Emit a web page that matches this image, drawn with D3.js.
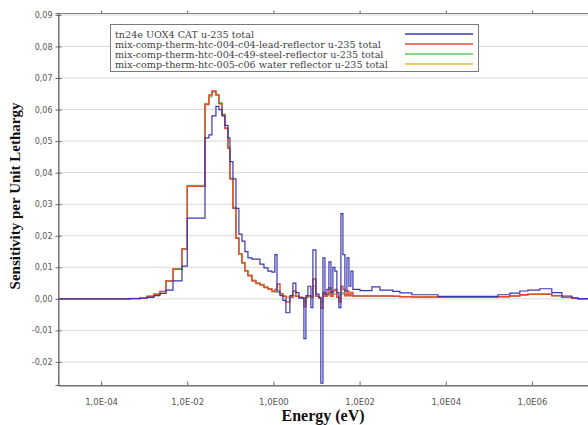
<!DOCTYPE html>
<html>
<head>
<meta charset="utf-8">
<script src="https://cdn.jsdelivr.net/npm/d3@7"></script>
<style>
  body { margin: 0; background: #fff; }
  svg { display: block; }
</style>
</head>
<body>
<div id="chart"></div>
<script>
// bin lower edges in eV (last entry closes the final bin)
const energyBins = [
  1.0e-5, 4.7e-4, 8.0e-4, 1.16e-3, 1.69e-3, 2.33e-3, 3.21e-3, 4.66e-3, 7.53e-3, 1.0e-2,
  2.58e-2, 3.19e-2, 3.74e-2, 4.63e-2, 5.43e-2, 6.38e-2, 7.49e-2, 8.80e-2, 9.79e-2, 0.115,
  0.135, 0.158, 0.186, 0.218, 0.256, 0.317, 0.393, 0.486, 0.602, 0.745,
  0.923, 1.08, 1.21, 1.42, 1.66, 1.95, 2.41, 2.83, 3.32, 3.91,
  4.58, 5.10, 5.68, 6.31, 7.41, 8.25, 9.68, 11.4, 12.6, 14.1,
  15.7, 17.4, 19.4, 21.6, 24.0, 26.7, 29.7, 33.1, 36.8, 41.0,
  45.6, 50.8, 56.5, 62.8, 69.9, 82.1, 102, 140, 193, 296,
  593, 861, 1630, 6560, 6.18e4, 1.62e5, 3.07e5, 5.24e5, 8.03e5, 1.52e6,
  2.89e6, 4.94e6, 8.44e6, 1.16e7, 2.0e7
];

// sensitivity per unit lethargy, one value per bin
const tn24eValues = [
  0, 0.0001, 0.0002, 0.0005, 0.0010, 0.0017, 0.0028, 0.0057, 0.0104, 0.0256,
  0.0510, 0.0520, 0.0580, 0.0610, 0.0600, 0.0580, 0.0550, 0.0510, 0.0435, 0.0380,
  0.0287, 0.0205, 0.0183, 0.0150, 0.0130, 0.0126, 0.0126, 0.0110, 0.0098, 0.0088,
  0.0085, 0.0140, 0.0025, 0.0010, -0.0005, -0.0044, 0.0010, 0.0050, 0.0020, 0.0002,
  0.0003, -0.0126, 0.0010, 0.0040, -0.0028, 0.0155, 0.0015, 0.0005, -0.0267, 0.0130,
  0.0015, 0.0030, 0.0117, 0.0020, 0.0100, 0.0088, 0.0020, -0.0028, 0.0270, 0.0140,
  0.0025, 0.0130, 0.0040, 0.0088, 0.0030, 0.0030, 0.0026, 0.0026, 0.0038, 0.0028,
  0.0024, 0.0019, 0.0013, 0.0008, 0.0008, 0.0013, 0.0018, 0.0025, 0.0028, 0.0032,
  0.0020, 0.0009, 0.0003, 0.0001
];

const leadValues = [
  0, 0.0001, 0.0003, 0.0008, 0.0015, 0.0023, 0.0057, 0.0094, 0.0158, 0.0357,
  0.0616, 0.0646, 0.0659, 0.0646, 0.0618, 0.0583, 0.0540, 0.0477, 0.0380, 0.0287,
  0.0192, 0.0142, 0.0114, 0.0088, 0.0073, 0.0057, 0.0049, 0.0044, 0.0036, 0.0031,
  0.0023, 0.0030, 0.0047, 0.0016, 0.0008, -0.0010, 0.0005, 0.0025, 0.0008, 0.0005,
  0.0003, -0.0025, 0.0005, 0.0010, 0.0005, 0.0063, 0.0008, 0.0003, -0.0030, 0.0020,
  0.0008, 0.0015, 0.0035, 0.0008, 0.0025, 0.0030, 0.0005, -0.0010, 0.0040, 0.0030,
  0.0010, 0.0025, 0.0010, 0.0020, 0.0009, 0.0009, 0.0009, 0.0009, 0.0009, 0.0009,
  0.0008, 0.0007, 0.0006, 0.0005, 0.0005, 0.0007, 0.0009, 0.0013, 0.0015, 0.0015,
  0.0010, 0.0005, 0.0002, 0
];

const steelValues = [
  0, 0.0001, 0.0003, 0.0008, 0.0015, 0.0023, 0.0057, 0.0096, 0.0159, 0.0360,
  0.0620, 0.0640, 0.0655, 0.0648, 0.0622, 0.0586, 0.0543, 0.0480, 0.0383, 0.0290,
  0.0194, 0.0144, 0.0115, 0.0089, 0.0075, 0.0059, 0.0050, 0.0045, 0.0037, 0.0031,
  0.0024, 0.0022, 0.0020, 0.0016, 0.0009, 0.0005, 0.0006, 0.0010, 0.0008, 0.0005,
  0.0003, -0.0010, 0.0005, 0.0008, 0.0005, 0.0040, 0.0008, 0.0003, -0.0010, 0.0015,
  0.0008, 0.0010, 0.0020, 0.0008, 0.0015, 0.0015, 0.0006, 0.0003, 0.0020, 0.0015,
  0.0010, 0.0015, 0.0010, 0.0012, 0.0009, 0.0009, 0.0009, 0.0009, 0.0009, 0.0009,
  0.0008, 0.0007, 0.0006, 0.0005, 0.0005, 0.0007, 0.0009, 0.0012, 0.0014, 0.0015,
  0.0010, 0.0005, 0.0002, 0
];

const waterValues = [
  0, 0.0001, 0.0003, 0.0008, 0.0015, 0.0023, 0.0057, 0.0095, 0.0158, 0.0358,
  0.0618, 0.0643, 0.0656, 0.0646, 0.0620, 0.0585, 0.0542, 0.0478, 0.0381, 0.0288,
  0.0193, 0.0143, 0.0116, 0.0090, 0.0076, 0.0060, 0.0052, 0.0046, 0.0039, 0.0033,
  0.0025, 0.0023, 0.0020, 0.0017, 0.0009, 0.0006, 0.0006, 0.0010, 0.0008, 0.0005,
  0.0003, -0.0010, 0.0005, 0.0008, 0.0005, 0.0040, 0.0008, 0.0003, -0.0010, 0.0015,
  0.0008, 0.0010, 0.0020, 0.0008, 0.0015, 0.0015, 0.0006, 0.0003, 0.0020, 0.0015,
  0.0010, 0.0015, 0.0010, 0.0012, 0.0009, 0.0009, 0.0009, 0.0009, 0.0009, 0.0009,
  0.0008, 0.0007, 0.0006, 0.0005, 0.0005, 0.0007, 0.0009, 0.0012, 0.0015, 0.0015,
  0.0010, 0.0005, 0.0002, 0
];

const seriesNames = [
  "tn24e UOX4 CAT u-235 total",
  "mix-comp-therm-htc-004-c04-lead-reflector u-235 total",
  "mix-comp-therm-htc-004-c49-steel-reflector u-235 total",
  "mix-comp-therm-htc-005-c06 water reflector u-235 total"
];
const seriesColors = ["#3838ae", "#e04a34", "#5cc85c", "#e8b83a"];
const seriesWidths = [1.2, 1.5, 1.1, 1.1];
const seriesValues = [tn24eValues, leadValues, steelValues, waterValues];

const xTickValues = [1e-4, 1e-2, 1, 1e2, 1e4, 1e6];
const xTickLabels = ["1,0E-04", "1,0E-02", "1,0E00", "1,0E02", "1,0E04", "1,0E06"];
const yTickValues = [-0.02, -0.01, 0, 0.01, 0.02, 0.03, 0.04, 0.05, 0.06, 0.07, 0.08, 0.09];

// ------------------------------------------------------------------
const width = 588, height = 425;
const margin = { top: 13, right: 0, bottom: 40, left: 58 };
const plotW = width - margin.left - margin.right;
const plotH = height - margin.top - margin.bottom;

const svg = d3.select("#chart").append("svg")
  .attr("width", width)
  .attr("height", height);

const x = d3.scaleLog()
  .domain([1e-5, 2e7])
  .range([margin.left, margin.left + plotW]);

const y = d3.scaleLinear()
  .domain([-0.0273, 0.0906])
  .range([margin.top + plotH, margin.top]);

const locale = d3.formatLocale({ decimal: ",", thousands: ".", grouping: [3], currency: ["", ""], minus: "-" });
const yFmt = locale.format(".2f");

// horizontal grid
svg.append("g")
  .selectAll("line")
  .data(yTickValues)
  .join("line")
  .attr("x1", margin.left)
  .attr("x2", margin.left + plotW)
  .attr("y1", d => y(d))
  .attr("y2", d => y(d))
  .attr("stroke", "#d8d8d8")
  .attr("stroke-width", 1);

// frame
svg.append("rect")
  .attr("x", margin.left + 0.5)
  .attr("y", margin.top + 0.5)
  .attr("width", plotW)
  .attr("height", plotH)
  .attr("fill", "none")
  .attr("stroke", "#8a8a8a");

// y axis
const yAxis = svg.append("g")
  .attr("transform", `translate(${margin.left + 0.5},0)`)
  .call(d3.axisLeft(y).tickValues(yTickValues).tickFormat(yFmt).tickSize(3).tickPadding(3));
yAxis.select(".domain").attr("stroke", "#666");
yAxis.selectAll(".tick line").attr("stroke", "#666").attr("x2", 3).attr("x1", -3);
yAxis.selectAll("text")
  .attr("fill", "#555")
  .style("font-family", "DejaVu Sans")
  .style("font-size", "8px");

// bottom axis, ticks pointing inward
const xAxis = svg.append("g")
  .attr("transform", `translate(0,${margin.top + plotH + 0.5})`)
  .call(d3.axisBottom(x).tickValues(xTickValues)
    .tickFormat((d, i) => xTickLabels[i]).tickSize(-4).tickPadding(13));
xAxis.select(".domain").attr("stroke", "#666");
xAxis.selectAll(".tick line").attr("stroke", "#666");
xAxis.selectAll("text")
  .attr("fill", "#555")
  .style("font-family", "DejaVu Sans")
  .style("font-size", "8.5px");

// top axis ticks
svg.append("g")
  .attr("transform", `translate(0,${margin.top + 0.5})`)
  .call(d3.axisTop(x).tickValues(xTickValues).tickFormat("").tickSize(3))
  .call(g => g.select(".domain").remove())
  .selectAll(".tick line").attr("stroke", "#666");

// series, drawn back to front so the reference series sits on top
svg.append("clipPath").attr("id", "plot-clip")
  .append("rect")
  .attr("x", margin.left + 1).attr("y", margin.top + 1)
  .attr("width", plotW - 1).attr("height", plotH - 1);

const line = d3.line()
  .x(d => x(d[0]))
  .y(d => y(d[1]))
  .curve(d3.curveStepAfter);

const lines = svg.append("g").attr("clip-path", "url(#plot-clip)");
[3, 2, 1, 0].forEach(s => {
  const vals = seriesValues[s];
  const pts = vals.map((v, i) => [energyBins[i], v]);
  pts.push([energyBins[vals.length], vals[vals.length - 1]]);
  lines.append("path")
    .datum(pts)
    .attr("fill", "none")
    .attr("stroke", seriesColors[s])
    .attr("stroke-width", seriesWidths[s])
    .attr("d", line);
});

// legend
const legend = svg.append("g");
legend.append("rect")
  .attr("x", 110.5).attr("y", 24.5)
  .attr("width", 368).attr("height", 47)
  .attr("fill", "#fff")
  .attr("stroke", "#7a7a7a");

seriesNames.forEach((name, i) => {
  const cy = 34 + i * 10;
  legend.append("text")
    .attr("x", 115)
    .attr("y", cy + 3.5)
    .attr("fill", "#444")
    .style("font-family", "DejaVu Serif")
    .style("font-size", "9.6px")
    .text(name);
  legend.append("line")
    .attr("x1", 405).attr("x2", 473)
    .attr("y1", cy).attr("y2", cy)
    .attr("stroke", seriesColors[i])
    .attr("stroke-width", 1.3);
});

// axis titles
svg.append("text")
  .attr("x", margin.left + plotW / 2)
  .attr("y", 421)
  .attr("text-anchor", "middle")
  .style("font-family", "Liberation Serif")
  .style("font-weight", "bold")
  .style("font-size", "16px")
  .attr("fill", "#111")
  .text("Energy (eV)");

svg.append("text")
  .attr("transform", `translate(20,${margin.top + plotH / 2 - 3}) rotate(-90)`)
  .attr("text-anchor", "middle")
  .style("font-family", "Liberation Serif")
  .style("font-weight", "bold")
  .style("font-size", "15px")
  .attr("fill", "#111")
  .text("Sensitivity per Unit Lethargy");
</script>
</body>
</html>
